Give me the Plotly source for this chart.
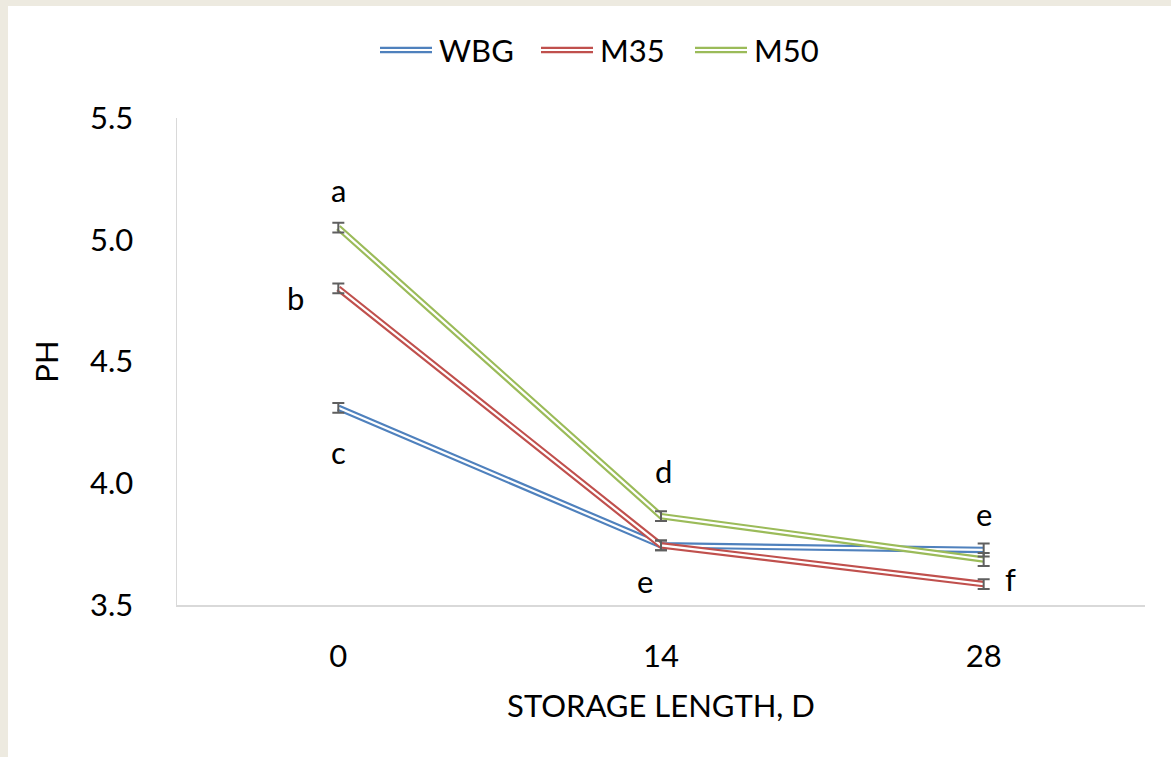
import plotly.graph_objects as go

# ---------------- data ----------------
days = ["0", "14", "28"]
series_names = ["WBG", "M35", "M50"]
wbg = [4.31, 3.745, 3.726]
m35 = [4.80, 3.745, 3.586]
m50 = [5.05, 3.865, 3.687]
wbg_err = [0.02, 0.02, 0.027]
m35_err = [0.02, 0.02, 0.02]
m50_err = [0.02, 0.02, 0.027]
colors = ["#4F81BD", "#C0504D", "#9BBB59"]
y_ticks = [3.5, 4.0, 4.5, 5.0, 5.5]

# significance letters: (series index, day index, letter, xshift px, yshift px)
letters = [
    (2, 0, "a", 0, 38),
    (1, 0, "b", -43, -10),
    (0, 0, "c", 0, -44),
    (2, 1, "d", 2, 45),
    (0, 1, "e", -16, -36),
    (0, 2, "e", 0, 36),
    (1, 2, "f", 27, 5),
]

values = [wbg, m35, m50]
errors = [wbg_err, m35_err, m50_err]

W, H = 1171, 757
ML, MR, MT, MB = 177, 26, 118, 152
PW, PH_ = W - ML - MR, H - MT - MB
FONT = "Lato"
FS = 31


def px_x(px):
    return (px - ML) / PW


def px_y(py):
    return 1 - (py - MT) / PH_


xidx = list(range(len(days)))
fig = go.Figure()

for name, vals, col in zip(series_names, values, colors):
    fig.add_trace(go.Scatter(x=xidx, y=vals, mode="lines", name=name,
                             line=dict(color=col, width=6.5), showlegend=False,
                             hoverinfo="skip"))
    fig.add_trace(go.Scatter(x=xidx, y=vals, mode="lines", name=name,
                             line=dict(color="white", width=2.2), showlegend=False,
                             hoverinfo="skip"))

for name, vals, errs in zip(series_names, values, errors):
    fig.add_trace(go.Scatter(x=xidx, y=vals, mode="markers", name=name,
                             marker=dict(size=0.1, color="rgba(0,0,0,0)"),
                             error_y=dict(type="data", array=errs, visible=True,
                                          color="#5F5F5F", thickness=2, width=6),
                             showlegend=False, hoverinfo="skip"))

annotations = []
for si, di, txt, xs, ys in letters:
    annotations.append(dict(x=di, y=values[si][di], xref="x", yref="y", text=txt,
                            showarrow=False, xshift=xs, yshift=ys,
                            font=dict(family=FONT, size=FS, color="black")))

shapes = []
# beige border on top and left
shapes.append(dict(type="rect", xref="paper", yref="paper", x0=px_x(0), x1=px_x(W),
                   y0=px_y(0), y1=px_y(6), fillcolor="#EDEAE0", line=dict(width=0),
                   layer="below"))
shapes.append(dict(type="rect", xref="paper", yref="paper", x0=px_x(0), x1=px_x(8),
                   y0=px_y(H), y1=px_y(0), fillcolor="#EDEAE0", line=dict(width=0),
                   layer="below"))

# manual legend with double-line samples
leg_y = 50
leg_items = [(380, 437), (541, 598), (695, 752)]
for (lx, tx), name, col in zip(leg_items, series_names, colors):
    shapes.append(dict(type="line", xref="paper", yref="paper",
                       x0=px_x(lx), x1=px_x(lx + 52), y0=px_y(leg_y), y1=px_y(leg_y),
                       line=dict(color=col, width=6.5)))
    shapes.append(dict(type="line", xref="paper", yref="paper",
                       x0=px_x(lx - 1), x1=px_x(lx + 53), y0=px_y(leg_y), y1=px_y(leg_y),
                       line=dict(color="white", width=2.2)))
    annotations.append(dict(x=px_x(tx), y=px_y(leg_y), xref="paper", yref="paper",
                            text=name, showarrow=False, xanchor="left", yanchor="middle",
                            font=dict(family=FONT, size=FS, color="black")))

fig.update_layout(
    width=W, height=H,
    margin=dict(l=ML, r=MR, t=MT, b=MB, pad=0),
    paper_bgcolor="white", plot_bgcolor="white",
    font=dict(family=FONT, size=FS, color="black"),
    showlegend=False,
    shapes=shapes,
    annotations=annotations,
    xaxis=dict(range=[-0.5, 2.5], tickmode="array", tickvals=xidx, ticktext=days,
               showgrid=False, zeroline=False, showline=True, linecolor="#D9D9D9",
               linewidth=1.5, ticks="", ticklabelstandoff=23,
               title=dict(text="STORAGE LENGTH, D", standoff=22,
                          font=dict(family=FONT, size=FS))),
    yaxis=dict(range=[3.5, 5.5], tickmode="array", tickvals=y_ticks,
               ticktext=[f"{v:.1f}" for v in y_ticks],
               showgrid=False, zeroline=False, showline=True, linecolor="#D9D9D9",
               linewidth=1.5, ticks="", ticklabelstandoff=36,
               title=dict(text="PH", standoff=22, font=dict(family=FONT, size=FS))),
)

fig.write_html("out.html", config={"displayModeBar": False, "staticPlot": True},
               post_script="document.body.style.margin='0';document.body.style.overflow='hidden';")
